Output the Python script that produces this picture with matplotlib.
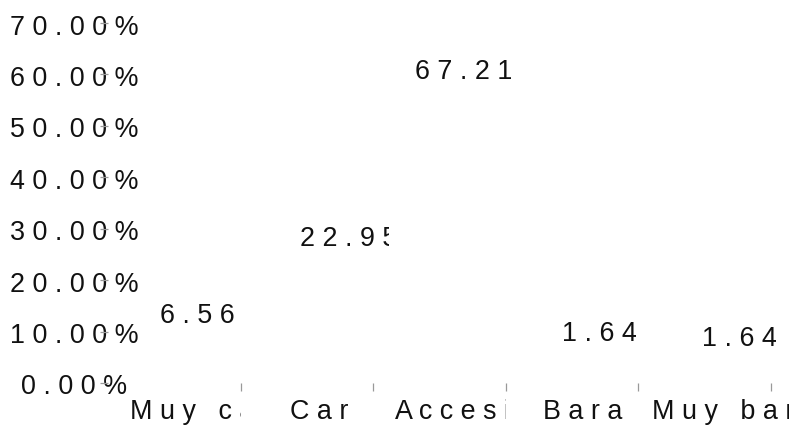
import matplotlib
matplotlib.use("Agg")
import matplotlib.pyplot as plt
from matplotlib.transforms import ScaledTranslation, Bbox, TransformedBbox

# ---- data ----
categories = ["Muy caro", "Caro", "Accesible", "Barato", "Muy barato"]
x_labels = ["Muy ca", "Car", "Accesi", "Bara", "Muy bar"]   # as visible in the chart
values = [6.56, 22.95, 67.21, 1.64, 1.64]
y_ticks = [0, 10, 20, 30, 40, 50, 60, 70]

# ---- style / placement (pixels) ----
value_dx_px = [-43, -24.5, -42, -39, -31.5]
value_dy_px = [33.5, 25.5, -35, 41, 35.5]
value_clip_px = [None, 16, None, None, None]   # clip right edge, relative to tick
xlabel_dx_px = [-111, -83.2, -110.8, -95.4, -119]
xlabel_dy_px = -29
ylabel_dx_px = -34
ylabel_dy_px = -4.5
FS = 19.4
FONT = ["Liberation Sans", "DejaVu Sans"]
plt.rcParams["font.family"] = FONT

def spaced(s):
    return " ".join(list(s))

W, H, DPI = 789, 429, 100
fig = plt.figure(figsize=(W / DPI, H / DPI), dpi=DPI)
fig.patch.set_facecolor("white")
ax = fig.add_axes([108 / W, (H - 383) / H, (771 - 108) / W, (383 - 23) / H])
ax.set_facecolor("none")
ax.set_zorder(2)

xs = list(range(len(categories)))
ax.bar(xs, values, width=0.8, color="none", edgecolor="none")
ax.set_xlim(-1, len(categories) - 1)
ax.set_ylim(0, 70)

for sp in ax.spines.values():
    sp.set_visible(False)

ax.set_xticks(xs)
ax.set_yticks(y_ticks)
ax.tick_params(axis="both", color="#999999", length=5.76, width=0.9, direction="out",
               labelbottom=False, labelleft=False)

def off(dx, dy):
    return ScaledTranslation(dx / DPI, dy / DPI, fig.dpi_scale_trans)

# y tick labels (centred, letter-spaced)
ytr = ax.get_yaxis_transform()
for v in y_ticks:
    fig.text(0, v, spaced(f"{v:.2f}%"), transform=ytr + off(ylabel_dx_px, ylabel_dy_px),
             ha="center", va="center", fontsize=FS, color="#111111", zorder=1)

# value labels
for i, v in enumerate(values):
    t = fig.text(i, v, spaced(f"{v:.2f}"),
                 transform=ax.transData + off(value_dx_px[i], value_dy_px[i]),
                 ha="center", va="center", fontsize=FS, color="#111111", zorder=3)
    if value_clip_px[i] is not None:
        ctr = ax.get_xaxis_transform() + off(value_clip_px[i], 0)
        t.set_clip_box(TransformedBbox(Bbox.from_extents(i - 1, 0, i, 1.2), ctr))
        t.set_clip_on(True)

# x category labels, clipped at their band edge
xtr = ax.get_xaxis_transform()
for i, lab in enumerate(x_labels):
    t = fig.text(i, 0, spaced(lab), transform=xtr + off(xlabel_dx_px[i], xlabel_dy_px),
                 ha="left", va="center", fontsize=FS, color="#111111", zorder=3)
    right = i if i < len(x_labels) - 1 else i + 1
    t.set_clip_box(TransformedBbox(Bbox.from_extents(i - 1, -2, right, 0.5), xtr))
    t.set_clip_on(True)

fig.savefig("out.png", dpi=DPI, facecolor="white")
